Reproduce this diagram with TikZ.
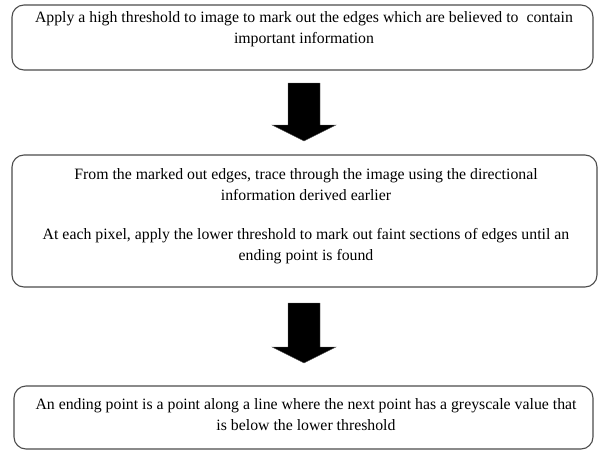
\documentclass[tikz,border=0pt]{standalone}
\usepackage{fontspec}
\setmainfont{Liberation Serif}
\begin{document}
\begin{tikzpicture}[x=1pt,y=-1pt,
  box/.style={draw=black!70,line width=1.1pt,rounded corners=12pt,inner sep=0pt},
  txt/.style={align=center,font=\fontsize{15.8}{21}\selectfont,inner sep=0pt,anchor=north},
  bigarrow/.style={fill=black,draw=black!60,line width=0.4pt}]
\useasboundingbox (0,0) rectangle (600,450);
\node[box,minimum width=581pt,minimum height=65pt] (b1) at (302.5,37.5) {};
\node[txt] (t1) at (304,11) {Apply a high threshold to image to mark out the edges which are believed to\ \ contain\\important information};
\node[box,minimum width=585pt,minimum height=132pt] (b2) at (304.5,221) {};
\node[txt] (t2) at (306,168) {From the marked out edges, trace through the image using the directional\\information derived earlier};
\node[txt] (t3) at (306,228) {At each pixel, apply the lower threshold to mark out faint sections of edges until an\\ending point is found};
\node[box,minimum width=579pt,minimum height=63pt] (b3) at (303.5,417.5) {};
\node[txt] (t4) at (306,398) {An ending point is a point along a line where the next point has a greyscale value that\\is below the lower threshold};
\draw[bigarrow] (288,83) -- (320,83) -- (320,125) -- (336,125) -- (304,141) -- (272,125) -- (288,125) -- cycle;
\draw[bigarrow] (288,303) -- (320,303) -- (320,347) -- (336,347) -- (304,363) -- (272,347) -- (288,347) -- cycle;
\end{tikzpicture}
\end{document}
